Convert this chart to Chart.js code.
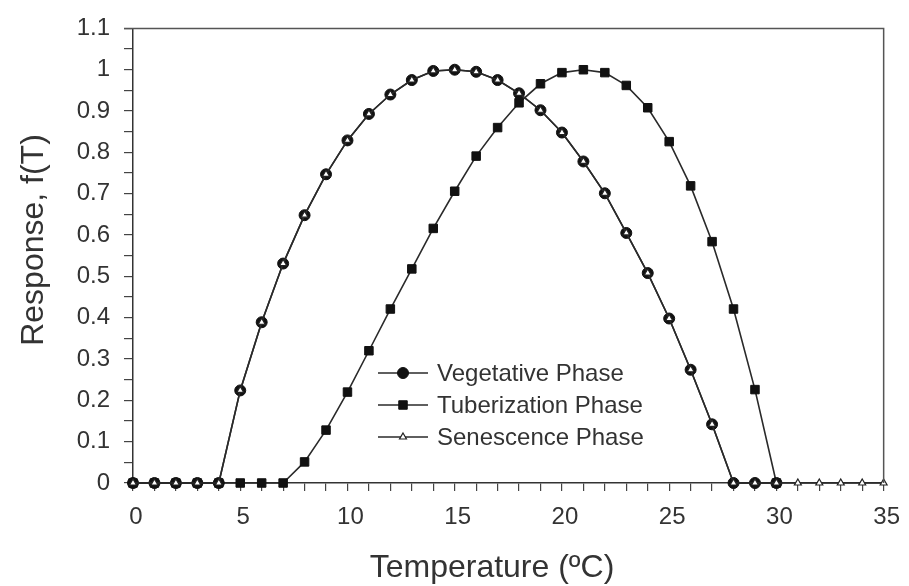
<!DOCTYPE html>
<html>
<head>
<meta charset="utf-8">
<script src="https://cdn.jsdelivr.net/npm/chart.js@4"></script>
<style>
  html, body { margin: 0; padding: 0; background: #fff; }
  #wrap { width: 909px; height: 586px; }
</style>
</head>
<body>
<div id="wrap"><canvas id="c" width="909" height="586"></canvas></div>
<script>
const temperatures = [0,1,2,3,4,5,6,7,8,9,10,11,12,13,14,15,16,17,18,19,20,21,22,23,24,25,26,27,28,29,30,31,32,33,34,35];
const vegetative = [0,0,0,0,0,0.224,0.389,0.531,0.648,0.747,0.829,0.893,0.940,0.975,0.997,1.0,0.995,0.975,0.943,0.902,0.848,0.778,0.701,0.605,0.508,0.398,0.274,0.142,0,0,0];
const tuberization = [0,0,0,0,0,0,0,0,0.051,0.128,0.220,0.320,0.421,0.518,0.616,0.706,0.791,0.860,0.920,0.966,0.993,1.0,0.993,0.962,0.908,0.826,0.719,0.584,0.421,0.226,0];
const senescence = [0,0,0,0,0,0.224,0.389,0.531,0.648,0.747,0.829,0.893,0.940,0.975,0.997,1.0,0.995,0.975,0.943,0.902,0.848,0.778,0.701,0.605,0.508,0.398,0.274,0.142,0,0,0,0,0,0,0,0];
const seriesNames = ['Vegetative Phase', 'Tuberization Phase', 'Senescence Phase'];
const xTitle = 'Temperature (ºC)';
const yTitle = 'Response, f(T)';

function pts(vals) { return vals.map((v, i) => ({ x: temperatures[i], y: v })); }

const TEXT = '#333';
const FONT = '"Liberation Sans", Arial, sans-serif';

const legendInside = {
  id: 'legendInside',
  afterDraw(chart) {
    const ctx = chart.ctx;
    const rows = [373, 405, 437];
    const x0 = 378, x1 = 428;
    ctx.save();
    chart.data.datasets.forEach((ds, i) => {
      const y = rows[i];
      ctx.strokeStyle = ds.borderColor;
      ctx.lineWidth = ds.borderWidth;
      ctx.beginPath(); ctx.moveTo(x0, y); ctx.lineTo(x1, y); ctx.stroke();
      ctx.fillStyle = ds.pointBackgroundColor;
      ctx.strokeStyle = ds.pointBorderColor;
      ctx.lineWidth = ds.pointBorderWidth;
      Chart.helpers.drawPoint(ctx, { pointStyle: ds.pointStyle, radius: ds.legendRadius, rotation: 0, borderWidth: ds.pointBorderWidth }, (x0 + x1) / 2, y);
      ctx.fillStyle = TEXT;
      ctx.font = '24px ' + FONT;
      ctx.textAlign = 'left';
      ctx.textBaseline = 'middle';
      ctx.fillText(seriesNames[i], 437, y + 1);
    });
    ctx.restore();
  }
};

const frameAndTitles = {
  id: 'frameAndTitles',
  afterDraw(chart) {
    const { ctx, chartArea: a } = chart;
    ctx.save();
    ctx.strokeStyle = '#555';
    ctx.lineWidth = 1.5;
    ctx.beginPath();
    ctx.moveTo(a.left - 9, a.top); ctx.lineTo(a.right, a.top); ctx.lineTo(a.right, a.bottom);
    ctx.stroke();
    ctx.fillStyle = TEXT;
    ctx.font = '32px ' + FONT;
    ctx.textAlign = 'center';
    ctx.textBaseline = 'alphabetic';
    ctx.fillText(xTitle, 492, 577);
    ctx.translate(43, 240);
    ctx.rotate(-Math.PI / 2);
    ctx.fillText(yTitle, 0, 0);
    ctx.restore();
  }
};

new Chart(document.getElementById('c'), {
  type: 'line',
  data: {
    datasets: [
      { label: seriesNames[0], data: pts(vegetative), order: 1, clip: false,
        borderColor: '#2a2a2a', borderWidth: 1.6, pointStyle: 'circle', pointRadius: 5.5, legendRadius: 5.5,
        pointBackgroundColor: '#111', pointBorderColor: '#111', pointBorderWidth: 1 },
      { label: seriesNames[1], data: pts(tuberization), order: 2, clip: false,
        borderColor: '#2a2a2a', borderWidth: 1.6, pointStyle: 'rect', pointRadius: 6, legendRadius: 6,
        pointBackgroundColor: '#111', pointBorderColor: '#111', pointBorderWidth: 1 },
      { label: seriesNames[2], data: pts(senescence), order: 0, clip: false,
        borderColor: '#2a2a2a', borderWidth: 1.6, pointStyle: 'triangle', pointRadius: 4, legendRadius: 4,
        pointBackgroundColor: '#fff', pointBorderColor: '#222', pointBorderWidth: 1.2 }
    ]
  },
  options: {
    responsive: false,
    animation: false,
    devicePixelRatio: 1,
    layout: { padding: { top: 22, right: 22, left: 0, bottom: 0 } },
    plugins: { legend: { display: false }, tooltip: { enabled: false } },
    elements: { line: { tension: 0 } },
    scales: {
      x: {
        type: 'linear', min: 0, max: 35,
        afterFit(s) { s.height = 103; },
        border: { display: true, color: '#333', width: 1.5 },
        grid: { display: true, drawOnChartArea: false, drawTicks: true, tickLength: 8, color: '#444', lineWidth: 1.2 },
        ticks: { stepSize: 1, autoSkip: false, maxRotation: 0, padding: 12, labelOffset: 3, color: TEXT,
          font: { family: FONT, size: 24 },
          callback: v => (Math.round(v) % 5 === 0 ? String(Math.round(v)) : '') },
        title: { display: false }
      },
      y: {
        type: 'linear', min: 0, max: 1.1,
        afterFit(s) { s.width = 133; },
        border: { display: true, color: '#333', width: 1.5 },
        grid: { display: true, drawOnChartArea: false, drawTicks: true, tickLength: 9, color: '#444', lineWidth: 1.2 },
        ticks: { stepSize: 0.05, autoSkip: false, padding: 14, color: TEXT,
          font: { family: FONT, size: 24 },
          callback: v => (Math.round(v * 20) % 2 === 0 ? String(Math.round(v * 10) / 10) : '') },
        title: { display: false }
      }
    }
  },
  plugins: [legendInside, frameAndTitles]
});
</script>
</body>
</html>
